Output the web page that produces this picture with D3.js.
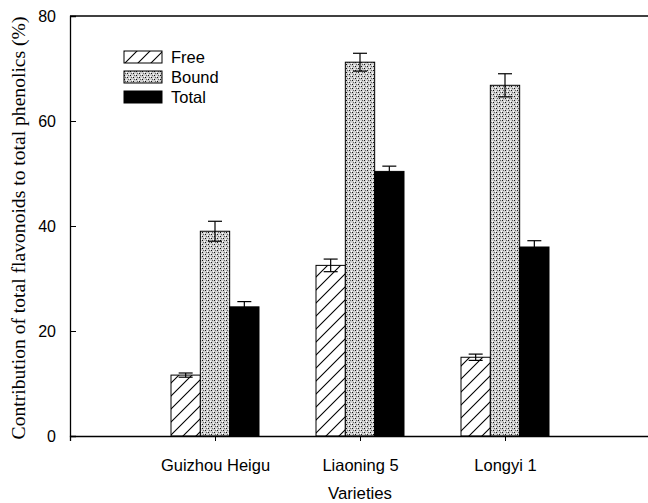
<!DOCTYPE html>
<html>
<head>
<meta charset="utf-8">
<script src="https://cdn.jsdelivr.net/npm/d3@7"></script>
<style>
  body { margin: 0; background: #fff; }
  svg { display: block; }
</style>
</head>
<body>
<div id="chart"></div>
<script>
// chart data
const varieties = ['Guizhou Heigu', 'Liaoning 5', 'Longyi 1'];
const seriesNames = ['Free', 'Bound', 'Total'];
const freeValues = [11.6, 32.5, 15.0];
const boundValues = [39.0, 71.2, 66.8];
const totalValues = [24.6, 50.4, 36.0];
const freeErrors = [0.4, 1.2, 0.6];
const boundErrors = [1.9, 1.7, 2.2];
const totalErrors = [1.0, 1.0, 1.2];
const yTicks = [0, 20, 40, 60, 80];

const width = 648, height = 503;
const margin = { top: 16, right: -2, bottom: 67, left: 70 };

const svg = d3.select('#chart')
    .append('svg')
    .attr('width', width)
    .attr('height', height);

const defs = svg.append('defs');

// hatch for "Free"
const hatch = defs.append('pattern')
    .attr('id', 'hatch')
    .attr('patternUnits', 'userSpaceOnUse')
    .attr('width', 13)
    .attr('height', 13);
hatch.append('rect').attr('width', 13).attr('height', 13).attr('fill', 'white');
hatch.append('path')
    .attr('d', 'M-1,14 L14,-1 M-4,4 L4,-4 M9,17 L17,9')
    .attr('stroke', 'black')
    .attr('stroke-width', 1.1);

// stipple for "Bound"
const dots = defs.append('pattern')
    .attr('id', 'dots')
    .attr('patternUnits', 'userSpaceOnUse')
    .attr('width', 6)
    .attr('height', 4);
dots.append('rect').attr('width', 6).attr('height', 4).attr('fill', '#d0d0d0');
dots.append('rect').attr('x', 0).attr('y', 0).attr('width', 1).attr('height', 1).attr('fill', '#111');
dots.append('rect').attr('x', 3).attr('y', 2).attr('width', 1).attr('height', 1).attr('fill', '#111');
dots.append('rect').attr('x', 1).attr('y', 2).attr('width', 1).attr('height', 1).attr('fill', '#666');
dots.append('rect').attr('x', 4).attr('y', 0).attr('width', 1).attr('height', 1).attr('fill', '#666');
dots.append('rect').attr('x', 2).attr('y', 1).attr('width', 1).attr('height', 1).attr('fill', '#fff');
dots.append('rect').attr('x', 5).attr('y', 3).attr('width', 1).attr('height', 1).attr('fill', '#fff');

const fills = { Free: 'url(#hatch)', Bound: 'url(#dots)', Total: 'black' };

const plotW = width - margin.left - margin.right;
const plotH = height - margin.top - margin.bottom;

const g = svg.append('g')
    .attr('transform', `translate(${margin.left},${margin.top})`);

// categories sit at 1,2,3 on a 0..4 axis
const x = d3.scaleLinear().domain([0, 4]).range([0, plotW]);
const y = d3.scaleLinear().domain([0, 80]).range([plotH, 0]);

const inner = d3.scaleBand()
    .domain(seriesNames)
    .range([-44, 44])
    .padding(0);

const rows = [];
varieties.forEach((v, i) => {
    rows.push({ variety: v, idx: i, series: 'Free', value: freeValues[i], err: freeErrors[i] });
    rows.push({ variety: v, idx: i, series: 'Bound', value: boundValues[i], err: boundErrors[i] });
    rows.push({ variety: v, idx: i, series: 'Total', value: totalValues[i], err: totalErrors[i] });
});

// bars
g.append('g').selectAll('rect')
    .data(rows)
    .enter()
    .append('rect')
    .attr('x', d => x(d.idx + 1) + inner(d.series))
    .attr('y', d => y(d.value))
    .attr('width', inner.bandwidth())
    .attr('height', d => y(0) - y(d.value))
    .attr('fill', d => fills[d.series])
    .attr('stroke', 'black')
    .attr('stroke-width', 1);

// error bars
const eb = g.append('g').selectAll('g')
    .data(rows)
    .enter()
    .append('g')
    .attr('stroke', 'black')
    .attr('stroke-width', 1.2);

const cx = d => x(d.idx + 1) + inner(d.series) + inner.bandwidth() / 2;
eb.append('line')
    .attr('x1', cx).attr('x2', cx)
    .attr('y1', d => y(d.value - d.err))
    .attr('y2', d => y(d.value + d.err));
eb.append('line')
    .attr('x1', d => cx(d) - 7).attr('x2', d => cx(d) + 7)
    .attr('y1', d => y(d.value + d.err))
    .attr('y2', d => y(d.value + d.err));
eb.append('line')
    .attr('x1', d => cx(d) - 7).attr('x2', d => cx(d) + 7)
    .attr('y1', d => y(d.value - d.err))
    .attr('y2', d => y(d.value - d.err));

// y axis, ticks inward
const yAxis = g.append('g')
    .call(d3.axisLeft(y).tickValues(yTicks).tickSize(-6).tickPadding(14));
yAxis.select('.domain').attr('stroke-width', 1.3);
yAxis.selectAll('text')
    .attr('font-family', 'Liberation Sans, Arial, sans-serif')
    .attr('font-size', 16)
    .attr('fill', 'black');

// x axis
const xAxis = g.append('g')
    .attr('transform', `translate(0,${plotH})`)
    .call(d3.axisBottom(x)
        .tickValues([1, 2, 3])
        .tickFormat(d => varieties[d - 1])
        .tickSize(5)
        .tickPadding(18));
xAxis.select('.domain').attr('stroke-width', 1.3);
xAxis.selectAll('text')
    .attr('font-family', 'Liberation Sans, Arial, sans-serif')
    .attr('font-size', 16.5)
    .attr('fill', 'black');

// top frame line
g.append('line')
    .attr('x1', 0).attr('x2', plotW + 2)
    .attr('y1', 0).attr('y2', 0)
    .attr('stroke', 'black')
    .attr('stroke-width', 1.3);

// axis titles
svg.append('text')
    .attr('transform', `translate(25,${margin.top + plotH / 2 + 2}) rotate(-90)`)
    .attr('text-anchor', 'middle')
    .attr('font-family', 'Liberation Serif, Times New Roman, serif')
    .attr('font-size', 19.6)
    .text('Contribution of total flavonoids to total phenolics (%)');

svg.append('text')
    .attr('x', margin.left + x(2))
    .attr('y', 499)
    .attr('text-anchor', 'middle')
    .attr('font-family', 'Liberation Sans, Arial, sans-serif')
    .attr('font-size', 16.8)
    .text('Varieties');

// legend
const legend = svg.append('g')
    .attr('transform', 'translate(124,51)');
const li = legend.selectAll('g')
    .data(seriesNames)
    .enter()
    .append('g')
    .attr('transform', (d, i) => `translate(0,${i * 20})`);
li.append('rect')
    .attr('width', 38)
    .attr('height', 12)
    .attr('fill', d => fills[d])
    .attr('stroke', 'black')
    .attr('stroke-width', 1);
li.append('text')
    .attr('x', 47)
    .attr('y', 12)
    .attr('font-family', 'Liberation Sans, Arial, sans-serif')
    .attr('font-size', 16.5)
    .text(d => d);
</script>
</body>
</html>
